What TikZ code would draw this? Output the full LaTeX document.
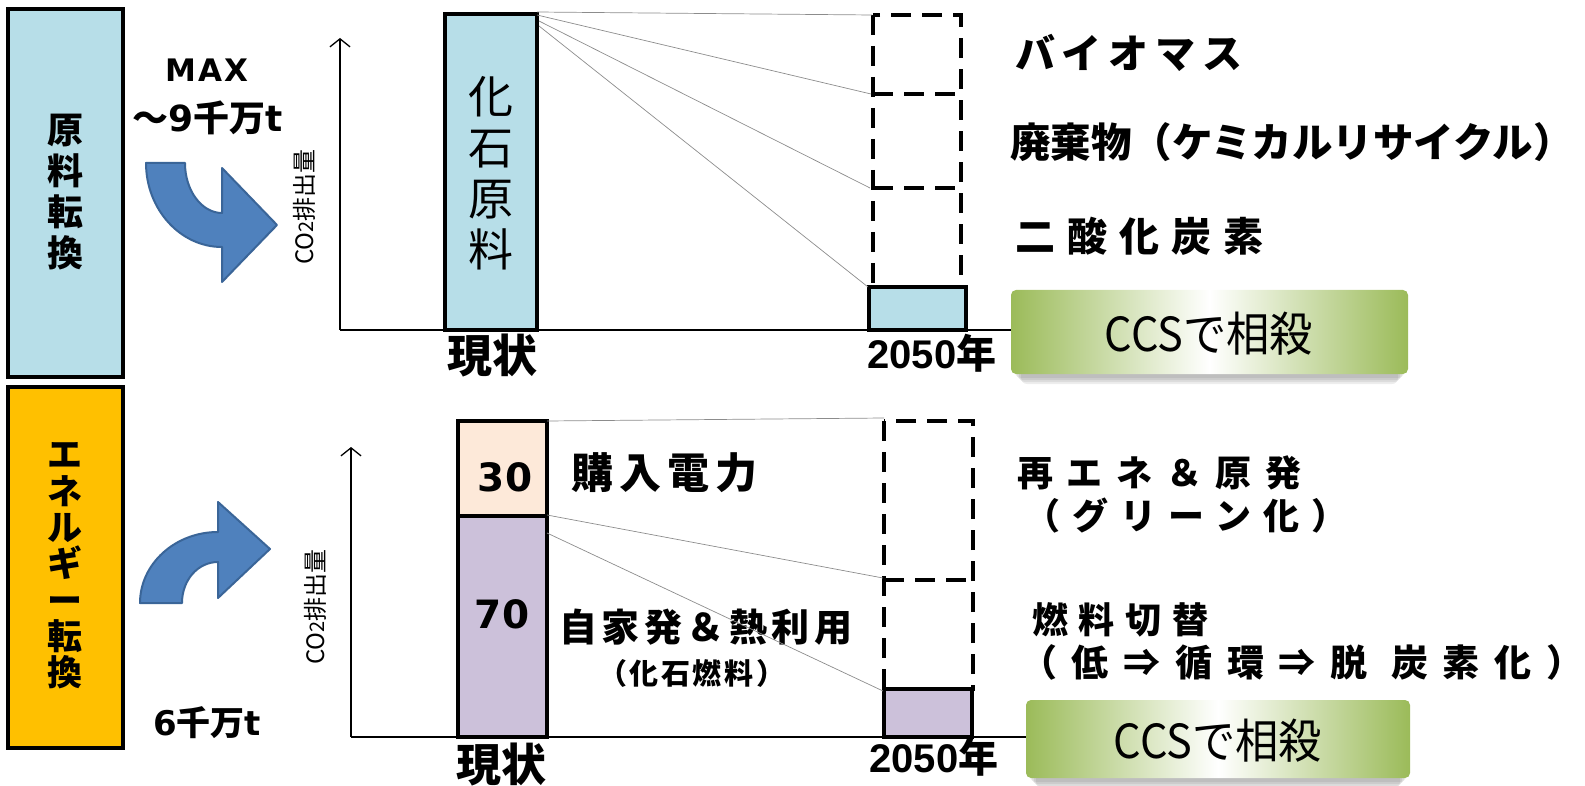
\documentclass[tikz,border=0pt]{standalone}
\usepackage{fontspec}
\usepackage{graphicx}
\setmainfont{Noto Sans CJK JP}
\newfontfamily\dv{DejaVu Sans}
\newfontfamily\lib{Liberation Sans}
\usetikzlibrary{arrows.meta}
\definecolor{lblue}{HTML}{B7DEE8}
\definecolor{orng}{HTML}{FFC000}
\definecolor{peach}{HTML}{FDE9D9}
\definecolor{lav}{HTML}{CCC1DA}
\definecolor{ablue}{HTML}{4F81BD}
\definecolor{ablued}{HTML}{3A6598}
\definecolor{grn}{HTML}{9BBB59}
\newcommand\fsz[2]{\fontsize{#1}{#2}\selectfont}
\newcommand\ls[1]{\addfontfeatures{LetterSpace=#1}}
\begin{document}
\begin{tikzpicture}[x=1pt,y=-1pt,
  every node/.style={inner sep=0pt, outer sep=0pt},
  sidebox/.style={draw=black, line width=4pt, anchor=north west},
  barbox/.style={draw=black, line width=4pt, anchor=north west},
  dashbox/.style={draw=black, line width=3.5pt, dash pattern=on 20pt off 11pt},
  guide/.style={draw=black!45, line width=0.7pt},
  axisline/.style={line width=1.3pt},
  axisarrow/.style={line width=1.3pt, -{Straight Barb[length=8pt,width=20pt,line width=1.3pt]}},
  bendarrow/.style={fill=ablue, draw=ablued, line width=2pt, line join=round},
  ccsbox/.style={rounded corners=5pt, left color=grn, right color=grn, middle color=white, anchor=north west},
  shadowbox/.style={fill=black, opacity=0.07, rounded corners=6pt},
  ccstext/.style={font=\fsz{47}{47}},
  rtext/.style={anchor=west, font=\bfseries\fsz{40}{40}},
  rtextb/.style={anchor=west, font=\bfseries\fsz{36}{36}},
]
\useasboundingbox (0,0) rectangle (1585,786);

% ---------- left side boxes ----------
\node[sidebox, fill=lblue, minimum width=115pt, minimum height=368pt] (rawbox) at (8,9) {};
\node[align=center, font=\bfseries\fsz{36}{41}] (rawtxt) at (65,192) {原\\料\\転\\換};
\node[sidebox, fill=orng, minimum width=115pt, minimum height=361pt] (enbox) at (8,387) {};
\node[align=center, font=\bfseries\fsz{35}{36.3}] (entxt) at (65,566) {エ\\ネ\\ル\\ギ\\ー\\転\\換};

\node[font=\dv\bfseries\fsz{31}{31}] (maxtxt) at (207,70) {\ls{7}MAX};
\node[font=\bfseries\fsz{36}{36}] (ninetxt) at (208,118) {～{\dv\bfseries 9}千万{\dv\bfseries t}};
\node[font=\bfseries\fsz{34}{34}] (sixtxt) at (207,723) {{\dv\bfseries 6}千万{\dv\bfseries t}};

% ---------- bent arrows ----------
\path[bendarrow] (146,163) -- (185,163) .. controls (185,191) and (202,213) .. (222,213)
  -- (222,168) -- (277,225) -- (222,282) -- (222,247)
  .. controls (180,247) and (146,209) .. (146,163) -- cycle;
\path[bendarrow] (140,603) .. controls (140,564) and (175,532) .. (218,532)
  -- (218,502) -- (270,549) -- (218,598) -- (218,562)
  .. controls (198,562) and (182,580) .. (182,603) -- cycle;

% ---------- top chart ----------
\coordinate (ta0) at (340,330);
\coordinate (ta1) at (340,38);
\coordinate (ta2) at (1011,330);
\draw[axisarrow] (ta0) -- (ta1);
\draw[axisline] (ta0) -- (ta2);
\node[rotate=90, font=\fsz{24}{24}] (co2a) at (304,207) {CO{\fsz{20}{20}2}排出量};

\node[barbox, fill=lblue, minimum width=92pt, minimum height=316pt] (fossil) at (445,14) {};
\node[align=center, font=\fsz{45}{51}] (fossiltxt) at (491,173) {化\\石\\原\\料};
\node[font=\bfseries\fsz{45}{45}] (nowa) at (492,356) {現状};

\draw[dashbox] (873,15) rectangle (961,287);
\draw[dashbox] (873,94) -- (961,94);
\draw[dashbox] (873,188) -- (961,188);
\node[barbox, fill=lblue, minimum width=97pt, minimum height=43pt] (resta) at (869,287) {};
\node[font=\bfseries\fsz{40}{40}] (yra) at (932,353) {{\lib\bfseries 2050}年};

\coordinate (ga0) at (537,12);
\coordinate (ga1) at (537,15);
\coordinate (ga2) at (539,21);
\coordinate (ga3) at (539,26);
\coordinate (gb0) at (872,15);
\coordinate (gb1) at (871,94);
\coordinate (gb2) at (870,188);
\coordinate (gb3) at (868,287);
\draw[guide] (ga0) -- (gb0);
\draw[guide] (ga1) -- (gb1);
\draw[guide] (ga2) -- (gb2);
\draw[guide] (ga3) -- (gb3);

\node[rtext] (bio) at (1015,53) {\ls{17}バイオマス};
\node[rtext, font=\bfseries\fsz{40.5}{40.5}] (waste) at (1010,142) {廃棄物（ケミカルリサイクル）};
\node[rtext] (cdo) at (1015,236) {\ls{30}二酸化炭素};

% CCS top
\foreach \d in {2,4,6,8} {\fill[shadowbox] (1013+\d,294+\d) rectangle (1406-\d,376+\d);}
\node[ccsbox, minimum width=397pt, minimum height=84pt] (ccsa) at (1011,290) {};
\node[ccstext] (ccsatxt) at (1209,334) {\scalebox{0.92}[1]{CCSで相殺}};

% ---------- bottom chart ----------
\coordinate (ba0) at (351,737);
\coordinate (ba1) at (351,447);
\coordinate (ba2) at (1026,737);
\draw[axisarrow] (ba0) -- (ba1);
\draw[axisline] (ba0) -- (ba2);
\node[rotate=90, font=\fsz{24}{24}] (co2b) at (315,607) {CO{\fsz{20}{20}2}排出量};

\node[barbox, fill=peach, minimum width=89pt, minimum height=95pt] (elec) at (458,421) {};
\node[barbox, fill=lav, minimum width=89pt, minimum height=221pt] (self) at (458,516) {};
\node[font=\dv\bfseries\fsz{39}{39}] (n30) at (505,477) {30};
\node[font=\dv\bfseries\fsz{39}{39}] (n70) at (502,614) {70};
\node[font=\bfseries\fsz{45}{45}] (nowb) at (501,765) {現状};

\node[anchor=west, font=\bfseries\fsz{42}{42}] (buy) at (571,473) {\ls{15}購入電力};
\node[anchor=west, font=\bfseries\fsz{38}{38}] (selfgen) at (559,627) {\ls{12}自家発＆熱利用};
\node[anchor=west, font=\bfseries\fsz{29}{29}] (fossilfuel) at (598,673) {\ls{9}（化石燃料）};

\draw[dashbox] (884,421) rectangle (973,689);
\draw[dashbox] (884,580) -- (973,580);
\node[barbox, fill=lav, minimum width=88pt, minimum height=48pt] (restb) at (884,689) {};
\node[font=\bfseries\fsz{40}{40}] (yrb) at (934,757) {{\lib\bfseries 2050}年};

\coordinate (gc0) at (547,421);
\coordinate (gc1) at (547,515);
\coordinate (gc2) at (547,533);
\coordinate (gd0) at (884,418);
\coordinate (gd1) at (883,578);
\coordinate (gd2) at (883,691);
\draw[guide] (gc0) -- (gd0);
\draw[guide] (gc1) -- (gd1);
\draw[guide] (gc2) -- (gd2);

\node[rtextb] (renew) at (1017,473) {\ls{38}再エネ＆原発};
\node[rtextb] (green) at (1024,516) {\ls{34}（グリーン化）};
\node[rtextb] (fuelsw) at (1032,620) {\ls{30}燃料切替};
\node[rtextb, font=\bfseries\fsz{37}{37}] (lowc) at (1020,662) {\ls{40}（低⇒循環⇒脱 炭素化）};

% CCS bottom
\foreach \d in {2,4,6,8} {\fill[shadowbox] (1028+\d,704+\d) rectangle (1408-\d,780+\d);}
\node[ccsbox, minimum width=384pt, minimum height=78pt] (ccsb) at (1026,700) {};
\node[ccstext] (ccsbtxt) at (1218,741) {\scalebox{0.92}[1]{CCSで相殺}};
\end{tikzpicture}
\end{document}
